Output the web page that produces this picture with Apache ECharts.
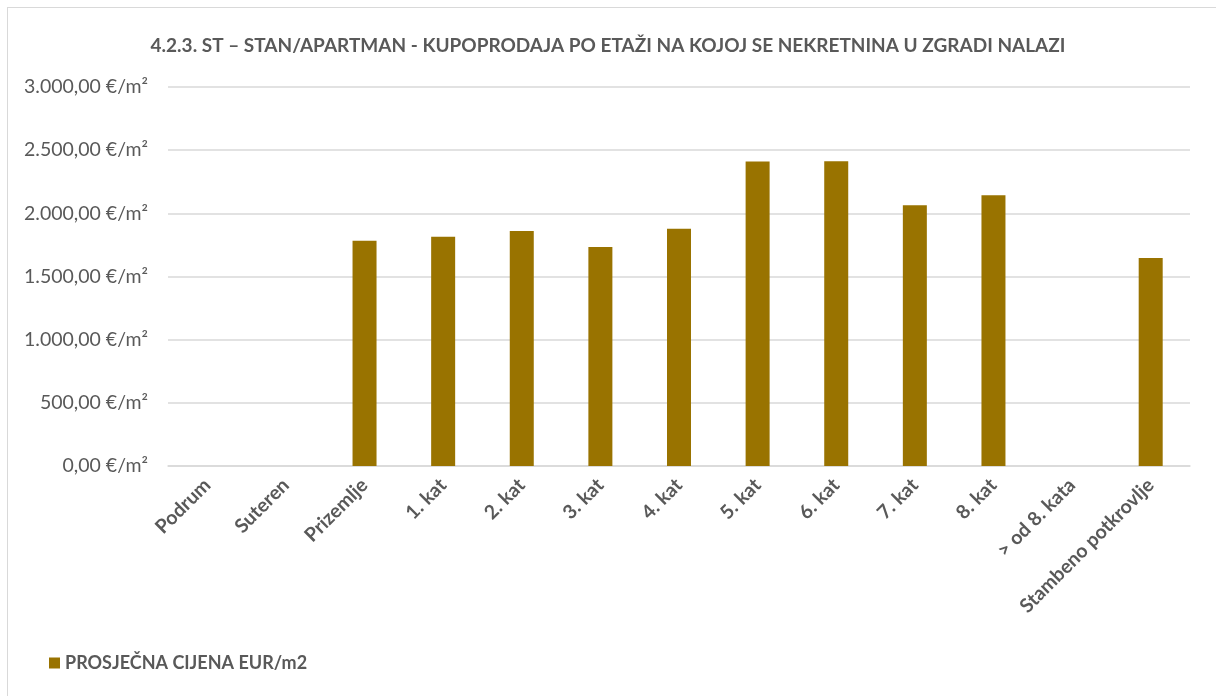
<!DOCTYPE html>
<html>
<head>
<meta charset="utf-8">
<script src="https://cdn.jsdelivr.net/npm/echarts@6/dist/echarts.min.js"></script>
<style>
  html, body { margin: 0; padding: 0; background: #fff; }
  #frame { position: absolute; left: 7px; top: 7px; width: 1215px; height: 700px; border: 1px solid #d9d9d9; box-sizing: border-box; }
  #chart { position: absolute; left: 0; top: 0; width: 1216px; height: 696px; }
</style>
</head>
<body>
<div id="frame"></div>
<div id="chart"></div>
<script>
var categories = ['Podrum', 'Suteren', 'Prizemlje', '1. kat', '2. kat', '3. kat', '4. kat',
    '5. kat', '6. kat', '7. kat', '8. kat', '> od 8. kata', 'Stambeno potkrovlje'];
var prices = [null, null, 1783, 1815, 1860, 1733, 1878, 2410, 2413, 2063, 2143, null, 1646];
var seriesName = 'PROSJEČNA CIJENA EUR/m2';
var titleText = '4.2.3. ST \u2013 STAN/APARTMAN - KUPOPRODAJA PO ETAŽI NA KOJOJ SE NEKRETNINA U ZGRADI NALAZI';

var font = 'Lato, "Open Sans", "Liberation Sans", sans-serif';
var textGray = '#595959';

function fmt(v) {
    var s = Math.round(v).toString().replace(/\B(?=(\d{3})+(?!\d))/g, '.');
    return s + ',00 €/m²';
}

var myChart = echarts.init(document.getElementById('chart'));
var option = {
    animation: false,
    title: {
        text: titleText,
        left: 'center',
        top: 31,
        textStyle: { fontFamily: font, fontSize: 19, fontWeight: 'bold', color: textGray }
    },
    grid: { left: 168, right: 26, top: 87, bottom: 230, containLabel: false },
    legend: {
        left: 44,
        top: 649,
        icon: 'rect',
        itemWidth: 11,
        itemHeight: 11,
        itemGap: 6,
        textStyle: { fontFamily: font, fontSize: 18, fontWeight: 'bold', color: textGray },
        data: [seriesName]
    },
    xAxis: {
        type: 'category',
        data: categories,
        axisLine: { lineStyle: { color: '#d9d9d9', width: 1.5 } },
        axisTick: { show: false },
        axisLabel: {
            interval: 0,
            rotate: 45,
            margin: 16,
            fontFamily: font,
            fontSize: 19.5,
            fontWeight: 'bold',
            color: textGray
        }
    },
    yAxis: {
        type: 'value',
        min: 0,
        max: 3000,
        interval: 500,
        axisLine: { show: false },
        axisTick: { show: false },
        splitLine: { lineStyle: { color: '#d9d9d9', width: 1.5 } },
        axisLabel: {
            margin: 20,
            fontFamily: font,
            fontSize: 19.5,
            color: textGray,
            formatter: fmt
        }
    },
    series: [{
        name: seriesName,
        type: 'bar',
        data: prices,
        barWidth: 24,
        itemStyle: { color: '#997300' }
    }]
};
myChart.setOption(option);
</script>
</body>
</html>
